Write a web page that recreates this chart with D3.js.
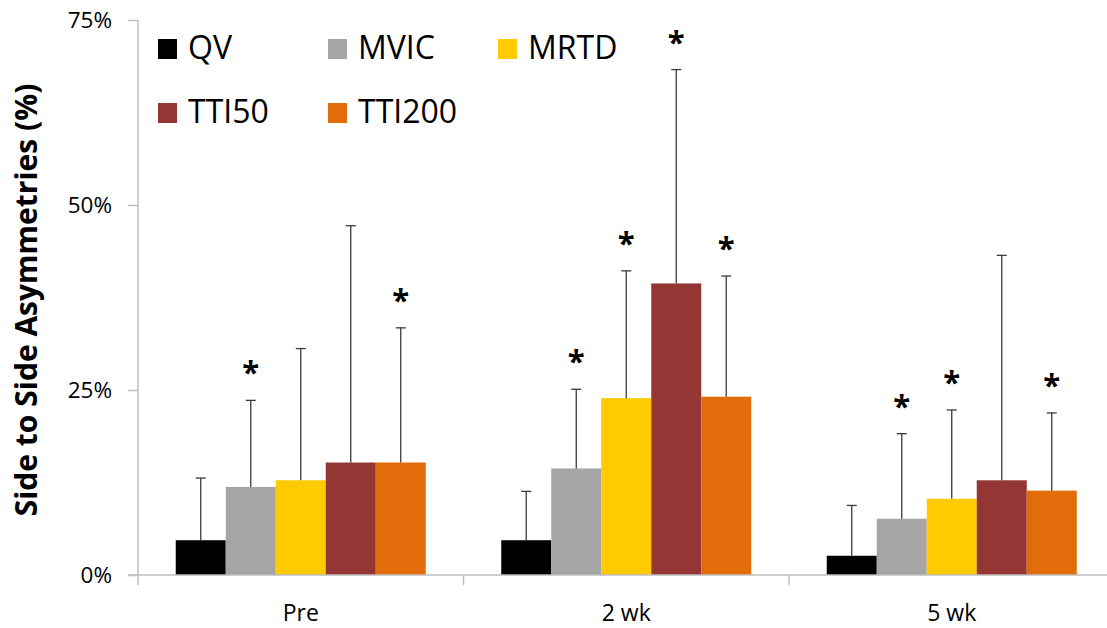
<!DOCTYPE html>
<html>
<head>
<meta charset="utf-8">
<script src="https://cdn.jsdelivr.net/npm/d3@7"></script>
<style>
  html, body { margin: 0; padding: 0; background: #fff; }
  svg { display: block; font-family: "Open Sans", "DejaVu Sans", sans-serif; }
</style>
</head>
<body>
<svg id="chart" width="1107" height="628"></svg>
<script>
// Time points and measures
const timepoints = ["Pre", "2 wk", "5 wk"];
const measures = ["QV", "MVIC", "MRTD", "TTI50", "TTI200"];
const colors = ["#000000", "#A5A5A5", "#FFCA00", "#943634", "#E36C0A"];

// Mean side-to-side asymmetry (%) per measure, one value per time point
const qvMean     = [4.7, 4.7, 2.6];
const mvicMean   = [11.9, 14.4, 7.6];
const mrtdMean   = [12.8, 23.9, 10.3];
const tti50Mean  = [15.2, 39.4, 12.8];
const tti200Mean = [15.2, 24.1, 11.4];

// Upper end of the error bar (mean + SD), %
const qvUpper     = [13.1, 11.3, 9.4];
const mvicUpper   = [23.6, 25.1, 19.1];
const mrtdUpper   = [30.6, 41.1, 22.3];
const tti50Upper  = [47.2, 68.3, 43.2];
const tti200Upper = [33.4, 40.4, 21.9];

// Significant asymmetry marker (*)
const qvSig     = [false, false, false];
const mvicSig   = [true, true, true];
const mrtdSig   = [false, true, true];
const tti50Sig  = [false, true, false];
const tti200Sig = [true, true, true];

const yTicks = [0, 25, 50, 75];
const yTitle = "Side to Side Asymmetries (%)";

const means  = [qvMean, mvicMean, mrtdMean, tti50Mean, tti200Mean];
const uppers = [qvUpper, mvicUpper, mrtdUpper, tti50Upper, tti200Upper];
const sigs   = [qvSig, mvicSig, mrtdSig, tti50Sig, tti200Sig];

const rows = [];
timepoints.forEach((t, ti) => {
  measures.forEach((m, mi) => {
    rows.push({ t, m, mi, mean: means[mi][ti], upper: uppers[mi][ti], sig: sigs[mi][ti] });
  });
});

const svg = d3.select("#chart");
const plot = { left: 138, right: 1114.5, top: 20, bottom: 575 };

const x0 = d3.scaleBand().domain(timepoints).range([plot.left, plot.right]).padding(0);
const x1 = d3.scaleBand().domain(measures).range([0, x0.bandwidth()])
  .paddingInner(0).paddingOuter(0.755);
const y = d3.scaleLinear().domain([0, 75]).range([plot.bottom, plot.top]);
const color = d3.scaleOrdinal().domain(measures).range(colors);

const axisColor = "#BEBEBE";

// Y axis
const yAxis = svg.append("g")
  .attr("transform", `translate(${plot.left},0)`)
  .call(d3.axisLeft(y).tickValues(yTicks).tickFormat(d => d + "%").tickSize(10).tickPadding(16));
yAxis.select(".domain").attr("stroke", axisColor).attr("stroke-width", 1.5)
  .attr("d", `M0,${plot.top}V${plot.bottom}`);
yAxis.selectAll(".tick line").attr("stroke", axisColor).attr("stroke-width", 1.5);
yAxis.selectAll(".tick text").attr("font-size", 22.5).attr("fill", "#000")
  .attr("font-family", "'Open Sans', sans-serif");

// Bars
const bars = svg.append("g");
bars.selectAll("rect").data(rows).join("rect")
  .attr("x", d => x0(d.t) + x1(d.m))
  .attr("y", d => y(d.mean))
  .attr("width", x1.bandwidth())
  .attr("height", d => y(0) - y(d.mean))
  .attr("fill", d => color(d.m));

// X axis (category boundaries as ticks)
const xAxisG = svg.append("g");
xAxisG.append("line")
  .attr("x1", plot.left - 10).attr("x2", plot.right)
  .attr("y1", y(0)).attr("y2", y(0))
  .attr("stroke", axisColor).attr("stroke-width", 1.5);
const bounds = timepoints.map(t => x0(t)).concat([x0(timepoints[timepoints.length - 1]) + x0.bandwidth()]);
xAxisG.selectAll("line.b").data(bounds).join("line").attr("class", "b")
  .attr("x1", d => d).attr("x2", d => d)
  .attr("y1", y(0)).attr("y2", y(0) + 10)
  .attr("stroke", axisColor).attr("stroke-width", 1.5);
xAxisG.selectAll("text").data(timepoints).join("text")
  .attr("x", d => x0(d) + x0.bandwidth() / 2)
  .attr("y", 621)
  .attr("text-anchor", "middle")
  .attr("font-size", 23)
  .attr("fill", "#000")
  .text(d => d);

// Error bars (upper only)
const err = svg.append("g").attr("stroke", "#3a3a3a").attr("stroke-width", 1.3);
const cx = d => x0(d.t) + x1(d.m) + x1.bandwidth() / 2;
err.selectAll("line.v").data(rows).join("line").attr("class", "v")
  .attr("x1", cx).attr("x2", cx)
  .attr("y1", d => y(d.mean)).attr("y2", d => y(d.upper));
err.selectAll("line.c").data(rows).join("line").attr("class", "c")
  .attr("x1", d => cx(d) - 5).attr("x2", d => cx(d) + 5)
  .attr("y1", d => y(d.upper)).attr("y2", d => y(d.upper));

// Significance markers above the error bars
svg.append("g").selectAll("text").data(rows.filter(d => d.sig)).join("text")
  .attr("x", cx)
  .attr("y", d => y(d.upper) - 35 + 18)
  .attr("text-anchor", "middle")
  .attr("font-size", 31)
  .attr("font-weight", "bold")
  .attr("fill", "#000")
  .text("*");

// Legend
const legendPos = [[158, 59], [328, 59], [498, 59], [158, 123], [328, 123]];
const legend = svg.append("g").selectAll("g").data(measures).join("g")
  .attr("transform", (d, i) => `translate(${legendPos[i][0]},${legendPos[i][1]})`);
legend.append("rect")
  .attr("x", 0).attr("y", -20).attr("width", 19).attr("height", 20)
  .attr("fill", d => color(d));
legend.append("text")
  .attr("x", 30).attr("y", 0)
  .attr("font-size", 32)
  .attr("fill", "#000")
  .text(d => d);

// Y axis title
svg.append("text")
  .attr("transform", `translate(37,${300}) rotate(-90)`)
  .attr("text-anchor", "middle")
  .attr("font-size", 30)
  .attr("font-weight", "bold")
  .attr("fill", "#000")
  .text(yTitle);
</script>
</body>
</html>
